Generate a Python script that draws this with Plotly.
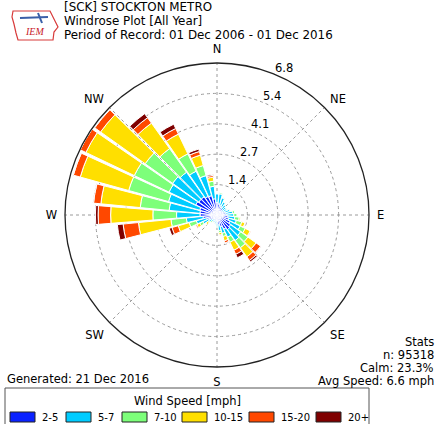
import math
import plotly.graph_objects as go

# ---------------- data ----------------
directions = list(range(0, 360, 10))
speed_labels = ["2-5", "5-7", "7-10", "10-15", "15-20", "20+"]
speed_colors = ["#0a22ff", "#00ccff", "#7dff7a", "#ffdf00", "#ff4800", "#7f0000"]

# frequency [%] per 10-degree bin for each speed class
v_2_5 = [0.55, 0.50, 0.45, 0.40, 0.35, 0.30, 0.30, 0.35, 0.40, 0.45, 0.50, 0.55,
         0.65, 0.75, 0.80, 0.70, 0.55, 0.45, 0.35, 0.30, 0.25, 0.25, 0.25, 0.30,
         0.40, 0.48, 0.63, 0.76, 0.77, 0.80, 1.05, 1.00, 1.00, 0.92, 0.90, 0.73]
v_5_7 = [0.40, 0.45, 0.35, 0.25, 0.20, 0.20, 0.20, 0.25, 0.30, 0.30, 0.30, 0.35,
         0.50, 0.55, 0.60, 0.40, 0.30, 0.25, 0.15, 0.10, 0.10, 0.10, 0.10, 0.15,
         0.30, 0.48, 0.75, 1.05, 1.38, 1.45, 1.33, 1.44, 1.35, 1.25, 0.93, 0.56]
v_7_10 = [0.02, 0.05, 0.02, 0.01, 0.01, 0.01, 0.01, 0.02, 0.10, 0.15, 0.20, 0.25,
          0.25, 0.40, 0.40, 0.25, 0.15, 0.10, 0.05, 0.02, 0.01, 0.01, 0.05, 0.05,
          0.15, 0.33, 0.69, 1.06, 1.30, 1.85, 1.72, 1.51, 1.30, 0.86, 0.47, 0.23]
v_10_15 = [0.00, 0.00, 0.00, 0.00, 0.00, 0.00, 0.00, 0.00, 0.01, 0.02, 0.05, 0.15,
           0.25, 0.45, 0.50, 0.40, 0.20, 0.10, 0.00, 0.00, 0.00, 0.00, 0.00, 0.10,
           0.15, 0.51, 1.46, 1.89, 1.77, 2.25, 2.40, 2.45, 1.40, 0.98, 0.48, 0.18]
v_15_20 = [0.00, 0.00, 0.00, 0.00, 0.00, 0.00, 0.00, 0.00, 0.00, 0.00, 0.00, 0.02,
           0.03, 0.25, 0.20, 0.20, 0.10, 0.02, 0.00, 0.00, 0.00, 0.00, 0.00, 0.00,
           0.05, 0.29, 0.69, 0.56, 0.33, 0.32, 0.28, 0.32, 0.30, 0.28, 0.17, 0.08]
v_20p = [0.00, 0.00, 0.00, 0.00, 0.00, 0.00, 0.00, 0.00, 0.00, 0.00, 0.00, 0.00,
         0.00, 0.02, 0.08, 0.17, 0.03, 0.00, 0.00, 0.00, 0.00, 0.00, 0.00, 0.00,
         0.00, 0.13, 0.26, 0.12, 0.03, 0.02, 0.02, 0.02, 0.22, 0.21, 0.11, 0.05]
speed_values = [v_2_5, v_5_7, v_7_10, v_10_15, v_15_20, v_20p]

r_max = 6.8
r_ticks = [1.36, 2.72, 4.08, 5.44, 6.8]
r_ticktext = ["1.4", "2.7", "4.1", "5.4", "6.8"]
compass_angles = [0, 45, 90, 135, 180, 225, 270, 315]
compass_labels = ["N", "NE", "E", "SE", "S", "SW", "W", "NW"]

title_lines = ["[SCK] STOCKTON METRO", "Windrose Plot [All Year]",
               "Period of Record: 01 Dec 2006 - 01 Dec 2016"]
stats_lines = ["Stats", "n: 95318", "Calm: 23.3%", "Avg Speed: 6.6 mph"]
generated_text = "Generated: 21 Dec 2016"
legend_title = "Wind Speed [mph]"

# ---------------- figure ----------------
W, H = 441, 424
FONT = "DejaVu Sans"

fig = go.Figure()
for lab, col, vals in zip(speed_labels, speed_colors, speed_values):
    fig.add_trace(go.Barpolar(
        r=vals, theta=directions, width=9, name=lab, showlegend=False,
        marker=dict(color=col, line=dict(color="white", width=1)),
    ))

cx, cy, rad = 217, 215, 152
fig.update_layout(
    width=W, height=H,
    margin=dict(l=0, r=0, t=0, b=0, autoexpand=False),
    paper_bgcolor="white",
    font=dict(family=FONT, size=11, color="black"),
    polar=dict(
        domain=dict(x=[(cx - rad) / W, (cx + rad) / W],
                    y=[(H - cy - rad) / H, (H - cy + rad) / H]),
        bgcolor="white",
        barmode="stack",
        radialaxis=dict(range=[0, r_max], tickvals=r_ticks, ticktext=r_ticktext,
                        angle=67.5, showline=False, showticklabels=False, ticks="",
                        gridcolor="#9a9a9a", griddash="dot", gridwidth=1),
        angularaxis=dict(rotation=90, direction="clockwise",
                         tickvals=compass_angles, ticktext=compass_labels,
                         showline=True, linecolor="#222", linewidth=1.3,
                         ticks="outside", ticklen=5, tickcolor="rgba(0,0,0,0)",
                         gridcolor="#9a9a9a", griddash="dot",
                         tickfont=dict(size=11.5, family=FONT)),
    ),
)

def px(x):
    return x / W

def py(y):
    return 1 - y / H

ann = []
for i, t in enumerate(title_lines):
    ann.append(dict(text=t, x=px(62), y=py(7 + 14 * i), xref="paper", yref="paper",
                    xanchor="left", yanchor="middle", showarrow=False,
                    font=dict(size=11.9, family=FONT)))
for i, t in enumerate(stats_lines):
    ann.append(dict(text=t, x=px(436), y=py(342 + 13 * i), xref="paper", yref="paper",
                    xanchor="right", yanchor="middle", showarrow=False,
                    font=dict(size=11.5, family=FONT)))
ann.append(dict(text=generated_text, x=px(5), y=py(379), xref="paper", yref="paper",
                xanchor="left", yanchor="middle", showarrow=False,
                font=dict(size=11.5, family=FONT)))

# radial tick labels along the NNE direction, placed from the radial scale
lab_ang = math.radians(22.5)
ux, uy = math.sin(lab_ang), -math.cos(lab_ang)      # outward (screen coords)
vx, vy = math.cos(lab_ang), math.sin(lab_ang)       # clockwise side
for rv, rt in zip(r_ticks, r_ticktext):
    d = rv / r_max * rad + 9.2
    lx = cx + d * ux + 5.4 * vx
    ly = cy + d * uy + 5.4 * vy
    ann.append(dict(text=rt, x=px(lx), y=py(ly), xref="paper", yref="paper",
                    xanchor="center", yanchor="middle", showarrow=False,
                    font=dict(size=11.5, family=FONT)))

# logo text
ann.append(dict(text="<i>IEM</i>", x=px(34), y=py(32), xref="paper", yref="paper",
                xanchor="center", yanchor="middle", showarrow=False,
                font=dict(size=10, family="Liberation Serif", color="#c8202a")))

# custom legend (box, title, patches, labels)
shapes = []
shapes.append(dict(type="rect", x0=px(5), x1=px(369), y0=py(388), y1=py(440),
                   xref="paper", yref="paper", line=dict(color="#555", width=1),
                   fillcolor="white", layer="below"))
ann.append(dict(text=legend_title, x=px(187), y=py(401), xref="paper", yref="paper",
                xanchor="center", yanchor="middle", showarrow=False,
                font=dict(size=11.5, family=FONT)))
legend_patch_x = [10, 66, 122, 182, 249, 316]
for lx, lab, col in zip(legend_patch_x, speed_labels, speed_colors):
    shapes.append(dict(type="rect", x0=px(lx), x1=px(lx + 25), y0=py(412), y1=py(422),
                       xref="paper", yref="paper", line=dict(color="#222", width=1),
                       fillcolor=col))
    ann.append(dict(text=lab, x=px(lx + 30), y=py(417), xref="paper", yref="paper",
                    xanchor="left", yanchor="middle", showarrow=False,
                    font=dict(size=10, family=FONT)))

# logo outline (Iowa-like shape) and small plane
def P(x, y):
    return f"{px(x):.4f},{py(y):.4f}"

outline = [(13, 11), (50, 11), (52, 15), (55, 21), (58, 27), (54, 32), (53, 40),
           (18, 40), (16, 33), (14, 24), (12, 17)]
path = "M" + " L".join(P(x, y) for x, y in outline) + " Z"
shapes.append(dict(type="path", path=path, xref="paper", yref="paper",
                   line=dict(color="#d83a3a", width=1.2), fillcolor="rgba(0,0,0,0)"))
shapes.append(dict(type="line", x0=px(20), y0=py(18), x1=px(48), y1=py(17),
                   xref="paper", yref="paper", line=dict(color="#3a5fa8", width=2)))
shapes.append(dict(type="line", x0=px(38), y0=py(13), x1=px(42), y1=py(23),
                   xref="paper", yref="paper", line=dict(color="#3a5fa8", width=2)))

fig.update_layout(annotations=ann, shapes=shapes)

fig.write_html("out.html", config={"displayModeBar": False},
               post_script="document.body.style.margin='0';")
